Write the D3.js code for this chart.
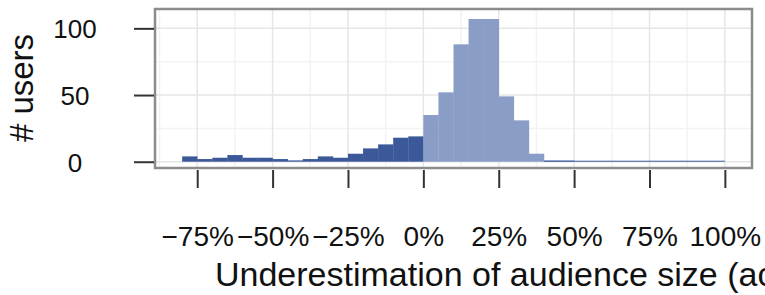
<!DOCTYPE html>
<html>
<head>
<meta charset="utf-8">
<script src="https://cdn.jsdelivr.net/npm/d3@7"></script>
<style>
  html, body { margin: 0; padding: 0; background: #fff; }
  svg { display: block; font-family: "Liberation Sans", Arial, Helvetica, sans-serif; }
</style>
</head>
<body>
<svg id="chart" width="765" height="295"></svg>
<script>
// Datos del histograma (bins de 5%)
var binStarts = [-80, -75, -70, -65, -60, -55, -50, -45, -40, -35, -30, -25, -20, -15, -10, -5,
  0, 5, 10, 15, 20, 25, 30, 35, 40, 45, 50, 55, 60, 65, 70, 75, 80, 85, 90, 95];
var counts = [4, 2, 3, 5, 3, 3, 2, 1, 2, 4, 3, 6, 10, 13, 18, 19,
  35, 52, 88, 107, 107, 49, 31, 6, 1, 1, 0, 0, 0, 0, 0, 0, 0, 0, 0, 0];
var binWidth = 5;

var xTicks = [-75, -50, -25, 0, 25, 50, 75, 100];
var xMinor = [-87.5, -62.5, -37.5, -12.5, 12.5, 37.5, 62.5, 87.5];
var yTicks = [0, 50, 100];
var yMinor = [25, 75];

var xTitle = 'Underestimation of audience size (actual)';
var yTitle = '# users';

var darkBlue = '#3b5998';
var lightBlue = '#8a9dc6';

// Dimensiones del panel
var panel = { left: 155, right: 752, top: 9, bottom: 168 };

var svg = d3.select('#chart');

var x = d3.scaleLinear().domain([-89, 109]).range([panel.left, panel.right]);
var y = d3.scaleLinear().domain([-4.7, 114.5]).range([panel.bottom, panel.top]);

var data = binStarts.map(function (d, i) {
  return { x0: d, x1: d + binWidth, n: counts[i] };
});

// Grilla
var grid = svg.append('g');
grid.selectAll('.vminor').data(xMinor).enter().append('line')
  .attr('x1', function (d) { return x(d); }).attr('x2', function (d) { return x(d); })
  .attr('y1', panel.top).attr('y2', panel.bottom)
  .attr('stroke', '#f3f3f3').attr('stroke-width', 1.5);
grid.selectAll('.hminor').data(yMinor).enter().append('line')
  .attr('x1', panel.left).attr('x2', panel.right)
  .attr('y1', function (d) { return y(d); }).attr('y2', function (d) { return y(d); })
  .attr('stroke', '#f3f3f3').attr('stroke-width', 1.5);
grid.selectAll('.vmajor').data(xTicks).enter().append('line')
  .attr('x1', function (d) { return x(d); }).attr('x2', function (d) { return x(d); })
  .attr('y1', panel.top).attr('y2', panel.bottom)
  .attr('stroke', '#e6e6e6').attr('stroke-width', 1.5);
grid.selectAll('.hmajor').data(yTicks).enter().append('line')
  .attr('x1', panel.left).attr('x2', panel.right)
  .attr('y1', function (d) { return y(d); }).attr('y2', function (d) { return y(d); })
  .attr('stroke', '#e6e6e6').attr('stroke-width', 1.5);

// Barras
svg.append('g').selectAll('rect')
  .data(data)
  .enter()
  .append('rect')
  .attr('x', function (d) { return x(d.x0); })
  .attr('width', function (d) { return x(d.x1) - x(d.x0) + 0.3; })
  .attr('y', function (d) { return y(d.n); })
  .attr('height', function (d) { return y(0) - y(d.n); })
  .attr('fill', function (d) { return d.x0 < 0 ? darkBlue : lightBlue; });

// linea base de los bins vacios
var tail = data.filter(function (d) { return d.x0 >= 40; });
svg.append('line')
  .attr('x1', x(tail[0].x0))
  .attr('x2', x(tail[tail.length - 1].x1))
  .attr('y1', y(0) - 0.5).attr('y2', y(0) - 0.5)
  .attr('stroke', darkBlue).attr('stroke-width', 1);

// Marco del panel
svg.append('rect')
  .attr('x', panel.left).attr('y', panel.top)
  .attr('width', panel.right - panel.left)
  .attr('height', panel.bottom - panel.top)
  .attr('fill', 'none')
  .attr('stroke', '#8c8c8c')
  .attr('stroke-width', 2.5);

// Ejes
var fmt = function (d) { return d3.format('d')(d).replace('-', '\u2212') + '%'; };

var xAxis = d3.axisBottom(x).tickValues(xTicks).tickSize(18).tickFormat(fmt);
var gx = svg.append('g')
  .attr('transform', 'translate(0,' + (panel.bottom + 2) + ')')
  .call(xAxis);
gx.select('.domain').remove();
gx.selectAll('.tick line').attr('stroke', '#333').attr('stroke-width', 2);
gx.selectAll('.tick text')
  .attr('fill', '#111')
  .attr('font-size', '28px')
  .attr('dy', 0)
  .attr('y', 76);

var yAxis = d3.axisLeft(y).tickValues(yTicks).tickSize(20).tickFormat(d3.format('d'));
var gy = svg.append('g')
  .attr('transform', 'translate(' + (panel.left - 1) + ',0)')
  .call(yAxis);
gy.select('.domain').remove();
gy.selectAll('.tick line').attr('stroke', '#333').attr('stroke-width', 2);
gy.selectAll('.tick text')
  .attr('fill', '#111')
  .attr('font-size', '26px')
  .attr('text-anchor', 'middle')
  .attr('x', -79)
  .attr('dy', '0.36em');

// Titulos
svg.append('text')
  .attr('x', 215)
  .attr('y', 286)
  .attr('font-size', '34px')
  .attr('fill', '#111')
  .text(xTitle);

svg.append('text')
  .attr('transform', 'translate(33,88) rotate(-90)')
  .attr('text-anchor', 'middle')
  .attr('font-size', '33px')
  .attr('fill', '#111')
  .text(yTitle);
</script>
</body>
</html>
